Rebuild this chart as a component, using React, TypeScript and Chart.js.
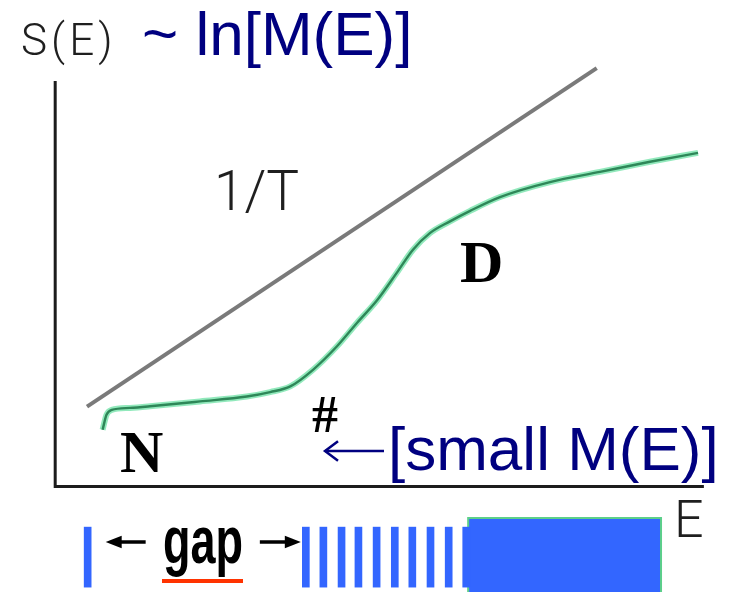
import React, { useEffect, useRef } from "react";
import { Chart, registerables } from "chart.js";

Chart.register(...registerables);

// Straight 1/T line: constant slope dS/dE
const tempLineE = [0.49, 8.34];
const tempLineS = [1.97, 10.32];

// Entropy S(E): flat native region (N), steep rise, then the denatured region (D)
const entropyE = [0.73, 0.79, 0.87, 1.15, 1.46, 2.23, 2.95, 3.31, 3.62, 3.97, 4.34, 4.65, 4.96, 5.26, 5.51, 5.77, 6.08, 6.39, 6.85, 7.62, 8.39, 9.16, 9.9];
const entropyS = [1.4, 1.77, 1.89, 1.94, 1.98, 2.1, 2.22, 2.33, 2.47, 2.88, 3.46, 4.04, 4.6, 5.27, 5.84, 6.25, 6.54, 6.8, 7.14, 7.51, 7.76, 8.01, 8.23];

// Energy levels along E: the ground state, a sparse band after the gap, then a continuum
const groundLevelE = [0.5];
const bandLevelE = [3.86, 4.13, 4.41, 4.67, 4.95, 5.23, 5.5, 5.78, 6.06, 6.33];
const continuumE = [6.36, 9.33];

// Extent of the drawn axes
const axisEMax = 9.99;
const axisSMax = 10;

// Vertical placement of the level strip under the E axis (in S units)
const LEVEL_TOP = -1.0;
const LEVEL_BOTTOM = -2.48;
const CONTINUUM_TOP = -0.775;
const STRIP_FLOOR = -3;

const NAVY = "#000080";
const INK = "#1f1f1f";
const LIGHT_SANS = 'Roboto, "DejaVu Sans", sans-serif';
const SERIF = '"Liberation Serif", "Times New Roman", serif';
const ARIAL = '"Liberation Sans", Arial, sans-serif';

function arrow(ctx: CanvasRenderingContext2D, x1: number, x2: number, y: number, filled: boolean, color: string, lw: number, head: number) {
  // draws an arrow from x1 to x2 with its head at x2
  const dir = Math.sign(x2 - x1);
  ctx.save();
  ctx.strokeStyle = color;
  ctx.fillStyle = color;
  ctx.lineWidth = lw;
  ctx.lineCap = "butt";
  ctx.beginPath();
  if (filled) {
    ctx.moveTo(x1, y);
    ctx.lineTo(x2 - dir * head * 1.2, y);
    ctx.stroke();
    ctx.beginPath();
    ctx.moveTo(x2, y);
    ctx.lineTo(x2 - dir * head * 1.6, y - head * 0.62);
    ctx.lineTo(x2 - dir * head * 1.6, y + head * 0.62);
    ctx.closePath();
    ctx.fill();
  } else {
    ctx.moveTo(x1, y);
    ctx.lineTo(x2, y);
    ctx.stroke();
    ctx.beginPath();
    ctx.moveTo(x2 - dir * head, y - head * 0.75);
    ctx.lineTo(x2, y);
    ctx.lineTo(x2 - dir * head, y + head * 0.75);
    ctx.stroke();
  }
  ctx.restore();
}

const annotations = {
  id: "annotations",
  afterDatasetsDraw(chart: Chart) {
    const ctx = chart.ctx;
    const xs = chart.scales.x;
    const px = (e: number) => xs.getPixelForValue(e);

    ctx.save();
    ctx.textBaseline = "alphabetic";
    ctx.textAlign = "left";

    // Axis titles
    ctx.fillStyle = INK;
    ctx.font = `300 44px ${LIGHT_SANS}`;
    (ctx as any).letterSpacing = "4px";
    ctx.fillText("S(E)", 21, 55);
    (ctx as any).letterSpacing = "0px";

    ctx.fillStyle = NAVY;
    ctx.font = `62px ${ARIAL}`;
    ctx.fillText("~ ln[M(E)]", 142, 55);

    ctx.fillStyle = INK;
    ctx.font = `300 52px ${LIGHT_SANS}`;
    ctx.fillText("E", 674, 537);

    // Curve labels
    ctx.font = `300 55px ${LIGHT_SANS}`;
    ctx.fillText("1/T", 214, 210);

    ctx.fillStyle = "#000";
    ctx.font = `bold 60px ${SERIF}`;
    ctx.fillText("D", 460, 282);
    ctx.fillText("N", 120, 472);
    ctx.font = `bold 52px ${SERIF}`;
    ctx.fillText("#", 312, 432);

    // Pointer to the bottleneck of the entropy curve
    arrow(ctx, 384, 325, 451, false, NAVY, 2.5, 13);
    ctx.fillStyle = NAVY;
    ctx.font = `62px ${ARIAL}`;
    ctx.fillText("[small M(E)]", 388, 470);

    // Gap between the ground level and the band
    const g0 = px(groundLevelE[0]);
    const g1 = px(bandLevelE[0]);
    arrow(ctx, g0 + 58, g0 + 18, 542, true, "#000", 3.5, 10);
    arrow(ctx, g1 - 46, g1 - 5, 542, true, "#000", 3.5, 10);

    ctx.save();
    ctx.translate(163, 563);
    ctx.scale(1, 1.5);
    ctx.fillStyle = "#000";
    ctx.font = `bold 45px ${ARIAL}`;
    ctx.fillText("gap", 0, 0);
    ctx.restore();

    ctx.fillStyle = "#ff3300";
    ctx.fillRect(162, 579, 81, 4);

    ctx.restore();
  },
};

export default function App() {
  const ref = useRef<HTMLCanvasElement>(null);

  useEffect(() => {
    const canvas = ref.current;
    if (!canvas) return;

    const entropyPts = entropyE.map((e, i) => ({ x: e, y: entropyS[i] }));
    const tempPts = tempLineE.map((e, i) => ({ x: e, y: tempLineS[i] }));
    const axisPts = [
      { x: 0, y: axisSMax },
      { x: 0, y: 0 },
      { x: axisEMax, y: 0 },
    ];
    const levelPts = [...groundLevelE, ...bandLevelE].map((e) => ({ x: e, y: [LEVEL_BOTTOM, LEVEL_TOP] }));
    const continuumPts = [
      { x: continuumE[0], y: STRIP_FLOOR },
      { x: continuumE[0], y: CONTINUUM_TOP },
      { x: continuumE[1], y: CONTINUUM_TOP },
      { x: continuumE[1], y: STRIP_FLOOR },
    ];

    const chart = new Chart(canvas, {
      type: "line",
      data: {
        datasets: [
          {
            type: "line",
            data: entropyPts,
            borderColor: "#2e8758",
            borderWidth: 2.4,
            pointRadius: 0,
            cubicInterpolationMode: "monotone",
            fill: false,
          },
          {
            type: "line",
            data: entropyPts,
            borderColor: "rgba(110, 225, 165, 0.75)",
            borderWidth: 6,
            pointRadius: 0,
            cubicInterpolationMode: "monotone",
            fill: false,
          },
          {
            type: "line",
            data: tempPts,
            borderColor: "#7a7a7a",
            borderWidth: 4,
            pointRadius: 0,
            fill: false,
          },
          {
            type: "line",
            data: axisPts,
            borderColor: "#1c1c1c",
            borderWidth: 3,
            borderJoinStyle: "miter",
            pointRadius: 0,
            fill: false,
          },
          {
            type: "bar",
            data: levelPts as any,
            backgroundColor: "#3366ff",
            borderWidth: 0,
            barThickness: 7,
          },
          {
            type: "line",
            data: continuumPts,
            borderColor: "#5ccf8a",
            borderWidth: 2,
            backgroundColor: "#3366ff",
            pointRadius: 0,
            fill: "start",
          },
        ] as any,
      },
      options: {
        responsive: false,
        animation: false,
        devicePixelRatio: 1,
        layout: { padding: 0 },
        events: [],
        plugins: {
          legend: { display: false },
          tooltip: { enabled: false },
        },
        scales: {
          x: { type: "linear", min: -0.85, max: 10.5, display: false, offset: false, grid: { offset: false } },
          y: { type: "linear", min: -2.6, max: 12, display: false },
        },
      },
      plugins: [annotations],
    });

    return () => chart.destroy();
  }, []);

  return (
    <div style={{ position: "absolute", left: 0, top: 0, width: 737, height: 592, background: "#fff" }}>
      <canvas ref={ref} width={737} height={592} style={{ display: "block" }} />
    </div>
  );
}
